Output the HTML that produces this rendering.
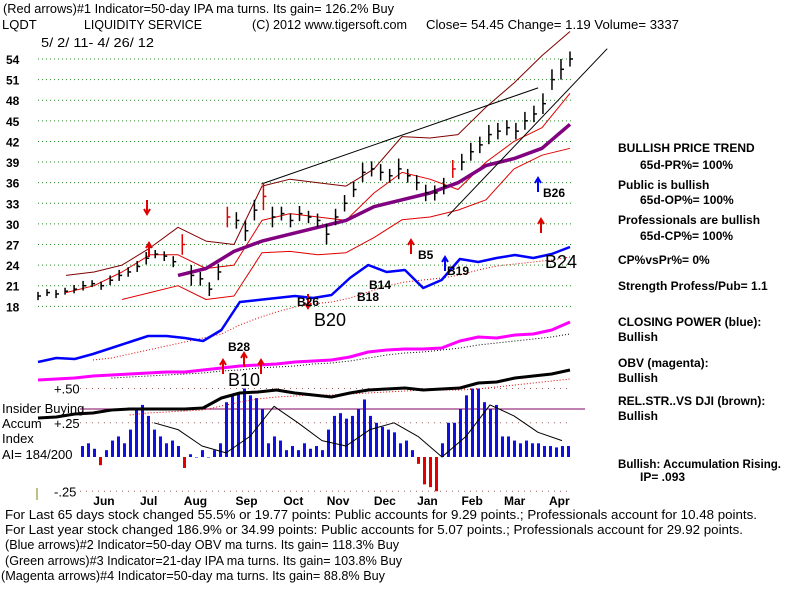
<!DOCTYPE html>
<html><head><meta charset="utf-8">
<style>
html,body{margin:0;padding:0;background:#fff;}
svg{display:block;font-family:"Liberation Sans",Arial,sans-serif;}
.t{font-size:13px;fill:#000;}
.b{font-size:12px;font-weight:bold;fill:#000;}
</style></head>
<body>
<svg id="chart" width="800" height="600" viewBox="0 0 800 600">
<g id="header">
<text class="t" x="3" y="13" textLength="391" lengthAdjust="spacingAndGlyphs">(Red arrows)#1 Indicator=50-day IPA ma turns. Its gain= 126.2% Buy</text>
<text class="t" x="2" y="29">LQDT</text>
<text class="t" x="84" y="29" textLength="118" lengthAdjust="spacingAndGlyphs">LIQUIDITY SERVICE</text>
<text class="t" x="252" y="29" textLength="155" lengthAdjust="spacingAndGlyphs">(C) 2012 www.tigersoft.com</text>
<text class="t" x="426" y="29" textLength="253" lengthAdjust="spacingAndGlyphs">Close=  54.45  Change= 1.19 Volume= 3337</text>
<text class="t" x="41" y="47" textLength="113" lengthAdjust="spacingAndGlyphs">5/ 2/ 11- 4/ 26/ 12</text>
</g>
<g id="grid"></g>
<g id="ylabels"></g>
<g id="marks"></g>
<g id="annot"></g>
<g id="right">
<text class="b" x="618" y="152">BULLISH PRICE TREND</text>
<text class="b" x="640" y="169">65d-PR%= 100%</text>
<text class="b" x="618" y="189">Public is bullish</text>
<text class="b" x="640" y="204">65d-OP%= 100%</text>
<text class="b" x="618" y="224">Professionals are bullish</text>
<text class="b" x="640" y="240">65d-CP%= 100%</text>
<text class="b" x="618" y="264">CP%vsPr%=  0%</text>
<text class="b" x="618" y="290">Strength Profess/Pub= 1.1</text>
<text class="b" x="618" y="326">CLOSING POWER (blue):</text>
<text class="b" x="618" y="341">Bullish</text>
<text class="b" x="618" y="367">OBV (magenta):</text>
<text class="b" x="618" y="382">Bullish</text>
<text class="b" x="618" y="405">REL.STR..VS DJI (brown):</text>
<text class="b" x="618" y="420">Bullish</text>
<text class="b" x="618" y="468" textLength="163" lengthAdjust="spacingAndGlyphs">Bullish: Accumulation Rising.</text>
<text class="b" x="640" y="481">IP=  .093</text>
</g>
<g id="footer">
<text class="t" x="5" y="519" textLength="752" lengthAdjust="spacingAndGlyphs">For Last 65 days stock changed  55.5% or  19.77 points:  Public accounts for  9.29 points.;  Professionals account for  10.48 points.</text>
<text class="t" x="5" y="534" textLength="738" lengthAdjust="spacingAndGlyphs">For Last year stock changed  186.9% or  34.99 points:  Public accounts for  5.07 points.;  Professionals account for  29.92 points.</text>
<text class="t" x="5" y="549" textLength="394" lengthAdjust="spacingAndGlyphs">(Blue arrows)#2 Indicator=50-day OBV ma turns. Its gain= 118.3% Buy</text>
<text class="t" x="5" y="565" textLength="397" lengthAdjust="spacingAndGlyphs">(Green arrows)#3 Indicator=21-day IPA ma turns. Its gain= 103.8% Buy</text>
<text class="t" x="1" y="580" textLength="384" lengthAdjust="spacingAndGlyphs">(Magenta arrows)#4 Indicator=50-day ma turns. Its gain= 88.8% Buy</text>
</g>
</svg>
<script>
var priceTicks=[54,51,48,45,42,39,36,33,30,27,24,21,18];
var months=["Jun","Jul","Aug","Sep","Oct","Nov","Dec","Jan","Feb","Mar","Apr"];
var monthDays=[31,52,74,98,120,141,163,183,204,224,245];
var closes=[19.5,20,19.8,20.2,20.5,21,21.3,21,21.8,22.5,23,23.8,25,25.6,25.3,24.5,27,22.5,22,20.5,23,31,30.5,29,32,34,31,31.5,30.5,31.5,31,30.5,28.5,31,33,35,37.5,38,37.5,37,38,37,36,34.5,34.5,35.5,38,39,40.5,41.5,43,43.5,44,43.5,45,46,47.5,51,52.5,54];
var spreads=[1.2,1,1.2,1,1.2,1.4,1,1.2,1.4,1.6,1.4,1.6,1.8,1.2,1.4,1.6,3,3,2,2,2.4,3,2.4,3,3,4,3,2,2,2.2,1.8,2,3,2.4,2.4,2.2,2.8,2.2,2.4,2,3,2,2.2,2.4,2.2,2.4,2.6,2.4,2.6,2.4,2.8,2.4,2.2,2.4,2.6,2.4,3,3,3,2.2];
var upperBand=[null,22.5,23,24,26.5,29.5,27.5,27,35.5,36.5,36,35.5,38,42.7,42.5,43,47,50.5,54.5,58];
var midBand=[null,20,21,23,25.5,25.5,23.5,24,30.5,31.5,31,30.5,34.5,37.5,36.5,35,39,42,44,49];
var lowerBand=[null,null,null,19,20,21,19,19.5,25.8,26,25.5,25.8,28,30.6,31,32,33.5,38,40,41];
var ma50=[null,null,null,null,null,22.5,23.5,26,27.5,28.5,29.5,30.5,32.5,33.5,34.5,36,38.5,39.5,41,44.5];
var cpLine=[8,12,11,16,22,28,34,34,32,29,40,68,70,72,74,72,75,92,105,98,100,82,90,111,108,112,115,112,116,123];
var cpMA=[null,null,null,10,12,16,20,24,28,32,36,45,52,58,63,66,68,72,78,84,88,90,92,95,100,104,106,108,110,113];
var obvLine=[20,21,22,24,25,26,27,28,28,30,32,34,35,36,38,39,40,43,48,50,51,51,52,59,63,62,65,66,70,78];
var obvMA=[null,null,null,null,22,23,24,25,26,27,29,30,32,33,34,36,37,39,42,45,47,48,50,52,55,57,59,61,63,66];
var rsLine=[12,13,16,17,20,21,21,21,21,22,32,37,38,40,37,35,33,37,40,41,42,40,41,42,47,48,52,54,56,60];
var rsMA=[null,null,null,null,null,15,17,18,19,20,24,28,31,33,34,35,35,36,37,38,39,40,40,40,41,43,45,47,49,51];
var aiValues=[0.08,0.1,0.06,-0.06,0.05,0.12,0.15,0.1,0.2,0.34,0.38,0.3,0.2,0.15,0.1,0.12,0.08,-0.08,0.02,0.0,0.05,0.0,0.05,0.1,0.4,0.45,0.47,0.5,0.45,0.43,0.35,0.1,0.15,0.12,0.05,0.08,0.05,0.1,0.06,0.08,0.05,0.2,0.3,0.32,0.28,0.3,0.35,0.42,0.3,0.25,0.22,0.2,0.18,0.1,0.12,0.05,-0.05,-0.2,-0.22,-0.25,0.1,0.25,0.25,0.35,0.45,0.5,0.5,0.4,0.35,0.38,0.15,0.15,0.12,0.1,0.12,0.1,0.1,0.08,0.08,0.07,0.08,0.08];
var aiMA=[null,null,null,0.25,0.2,0.08,0.03,0.15,0.37,0.25,0.12,0.08,0.2,0.25,0.15,0.0,0.15,0.38,0.3,0.18,0.12];
var aiTicks=[0.5,0.25,-0.25];
var aiTickLabels=["+.50","+.25","-.25"];
var trend1=[0.42,35.8,0.94,49.8];
var trend2=[0.77,31.1,1.07,55.5];

var NS="http://www.w3.org/2000/svg";
var X0=38,X1=570;
function xF(f){return X0+(X1-X0)*f;}
function xIdx(i,n){return xF(i/(n-1));}
function xDay(d){return X0+(X1-X0)*d/250;}
function yP(v){return 59+(54-v)*6.87;}
function yCP(v){return 370-v;}
function yOBV(v){return 400-v;}
function yRS(v){return 430-v;}
function yAI(v){return 457-v*137;}
function mk(tag,attrs,parent){var e=document.createElementNS(NS,tag);for(var k in attrs)e.setAttribute(k,attrs[k]);parent.appendChild(e);return e;}
function path(arr,yf,xf){var d="",s=false;for(var i=0;i<arr.length;i++){if(arr[i]==null){s=false;continue;}d+=(s?"L":"M")+xf(i).toFixed(1)+","+yf(arr[i]).toFixed(1);s=true;}return d;}
var grid=document.getElementById("grid"),yl=document.getElementById("ylabels"),mg=document.getElementById("marks"),an=document.getElementById("annot");

priceTicks.forEach(function(v){
  var l=mk("line",{x1:38,x2:572,y1:yP(v),y2:yP(v),stroke:"#2a8a2a","stroke-width":1,"stroke-dasharray":"1,3"},grid);
  
  
  var t=mk("text",{x:6,y:yP(v)+5,"class":"b"},yl);t.textContent=v;
  
  
});
aiTicks.forEach(function(v,i){
  var l=mk("line",{x1:80,x2:572,y1:yAI(v),y2:yAI(v),stroke:"#a06060","stroke-width":1,"stroke-dasharray":"1,5"},grid);
  
  
  var t=mk("text",{x:54,y:yAI(v)+5,"class":"t"},yl);t.textContent=aiTickLabels[i];
  
  
});
months.forEach(function(m,i){
  var t=mk("text",{x:xDay(monthDays[i]),y:505,"class":"b","text-anchor":"middle"},yl);t.textContent=m;
  
  
});
[["Insider Buying",413],["Accum",428],["Index",443],["AI= 184/200",459]].forEach(function(a){
  var t=mk("text",{x:2,y:a[1],"class":"t"},yl);t.textContent=a[0];
  
  
});
var ins=mk("line",{x1:80,x2:585,y1:409,y2:409,stroke:"#800060","stroke-width":1},grid);


var ol=mk("line",{x1:37,x2:37,y1:488,y2:500,stroke:"#808000","stroke-width":1},grid);



aiValues.forEach(function(v,i){
  var x=82+i*(568-82)/(aiValues.length-1);
  var r=mk("rect",{x:x-1,y:Math.min(yAI(v),yAI(0)),width:3,height:Math.abs(yAI(v)-yAI(0))||0.5,fill:v<0?"#e00000":"#1010e0"},mg);
  
  
});
function line(arr,yf,xf,color,w,dash,name){
  var p=mk("path",{d:path(arr,yf,xf),fill:"none",stroke:color,"stroke-width":w,"stroke-linejoin":"round"},mg);
  if(dash)p.setAttribute("stroke-dasharray",dash);
  
  
}
line(aiMA,yAI,function(i){return 82+i*(562-82)/(aiMA.length-1);},"#000",1,null,"ai-ma-line");
var n30=function(i){return xIdx(i,30);};
line(rsMA,yRS,n30,"#e00000",1,"1,2","rs-ma-line");
line(rsLine,yRS,n30,"#000",3,null,"rel-strength-line");
line(obvMA,yOBV,n30,"#000",1,"1,2","obv-ma-line");
line(obvLine,yOBV,n30,"#ff00ff",3,null,"obv-line");
line(cpMA,yCP,n30,"#e00000",1,"1,2","cp-ma-line");
line(cpLine,yCP,n30,"#0000ff",2.5,null,"closing-power-line");
var n20=function(i){return xIdx(i,20);};
line(upperBand,yP,n20,"#800000",1,null,"upper-band");
line(midBand,yP,n20,"#e00000",1,null,"middle-band");
line(lowerBand,yP,n20,"#e00000",1,null,"lower-band");
line(ma50,yP,n20,"#800080",3.5,null,"ma-50-line");
[trend1,trend2].forEach(function(t){
  var l=mk("line",{x1:xF(t[0]),y1:yP(t[1]),x2:xF(t[2]),y2:yP(t[3]),stroke:"#000","stroke-width":1},mg);
  
  
});
closes.forEach(function(c,i){
  var x=xIdx(i,closes.length),h=c+spreads[i]/2,lo=c-spreads[i]/2;
  var col=(i==16||i==21||i==25||i==46)?"#e00000":"#000";
  var l=mk("line",{x1:x,x2:x,y1:yP(h),y2:yP(lo),stroke:col,"stroke-width":1.5},mg);
  
  
  var t=mk("line",{x1:x,x2:x+3,y1:yP(c),y2:yP(c),stroke:col,"stroke-width":1.5},mg);
  
  
});
function arrow(x,y,up,color,name){
  var d=up?"M"+x+","+(y+14)+"L"+x+","+y+"M"+(x-3)+","+(y+5)+"L"+x+","+y+"L"+(x+3)+","+(y+5):"M"+x+","+(y-14)+"L"+x+","+y+"M"+(x-3)+","+(y-5)+"L"+x+","+y+"L"+(x+3)+","+(y-5);
  var p=mk("path",{d:d,fill:"none",stroke:color,"stroke-width":2},an);
  
  
}
arrow(147,214,false,"#e00000","red-sell-arrow");
arrow(149,243,true,"#e00000","red-buy-arrow");
arrow(411,240,true,"#e00000","red-buy-arrow");
arrow(541,219,true,"#e00000","red-buy-arrow");
arrow(538,178,true,"#0000ff","blue-buy-arrow");
arrow(445,257,true,"#0000ff","blue-buy-arrow");
arrow(223,360,true,"#e00000","red-buy-arrow");
arrow(244,353,true,"#e00000","red-buy-arrow");
arrow(261,360,true,"#e00000","red-buy-arrow");
arrow(308,308,false,"#e00000","red-arrow");
[["B26",543,197,12],["B5",418,259,12],["B14",369,289,12],["B18",357,301,12],["B26",297,306,12],["B20",314,326,18],["B24",545,268,18],["B19",447,275,12],["B28",228,351,12],["B10",228,386,18]].forEach(function(a){
  var t=mk("text",{x:a[1],y:a[2],"font-size":a[3],"font-weight":a[3]==12?"bold":"normal",fill:"#000"},an);t.textContent=a[0];
  
  
});
</script>
</body></html>
